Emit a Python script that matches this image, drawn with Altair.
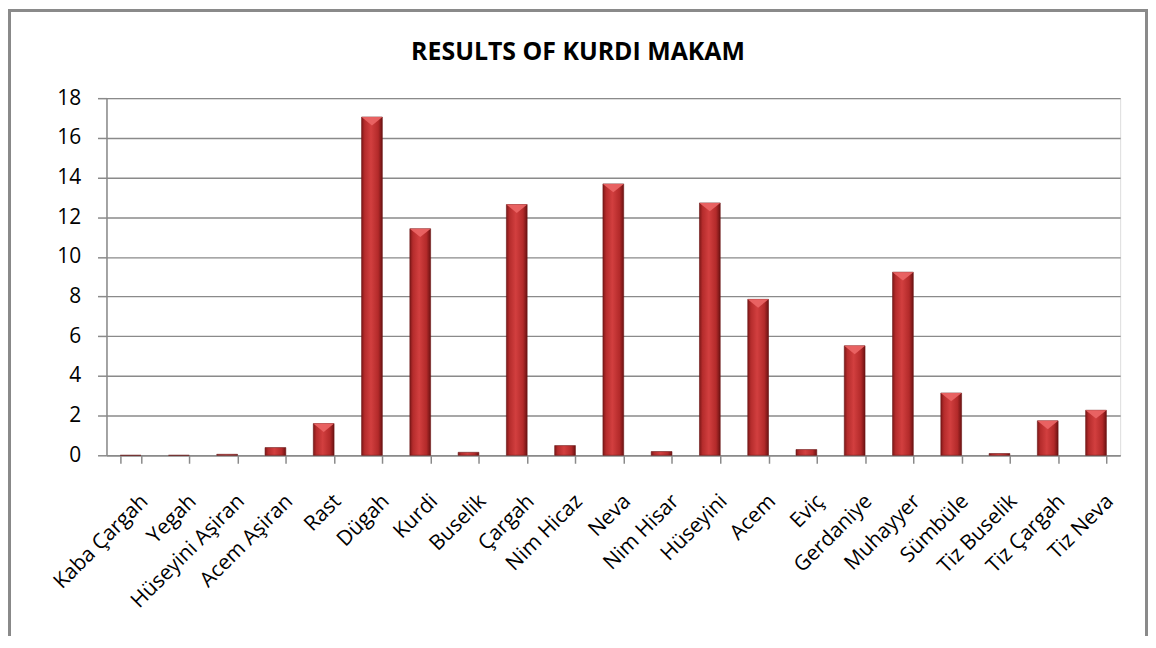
import altair as alt
import pandas as pd

categories = ["Kaba Çargah", "Yegah", "Hüseyini Aşiran", "Acem Aşiran", "Rast",
              "Dügah", "Kurdi", "Buselik", "Çargah", "Nim Hicaz", "Neva",
              "Nim Hisar", "Hüseyini", "Acem", "Eviç", "Gerdaniye", "Muhayyer",
              "Sümbüle", "Tiz Buselik", "Tiz Çargah", "Tiz Neva"]
values = [0, 0, 0.05, 0.39, 1.6, 17.05, 11.42, 0.15, 12.64, 0.49, 13.68,
          0.19, 12.72, 7.86, 0.29, 5.52, 9.23, 3.14, 0.09, 1.74, 2.27]
y_ticks = [0, 2, 4, 6, 8, 10, 12, 14, 16, 18]
title_text = "RESULTS OF KURDI MAKAM"

df = pd.DataFrame({"cat": categories, "v": values})

W, H = 1019, 359
GRID = "#8a8a8a"

yscale = alt.Scale(domain=[0, 18], nice=False)
yaxis = alt.Axis(values=y_ticks, tickCount=10, labelFont="Open Sans", labelFontSize=21,
                 labelColor="#000000", tickSize=9, tickColor=GRID,
                 tickWidth=1.5, labelPadding=17, domainColor=GRID,
                 domainWidth=1.5, gridColor=GRID, gridWidth=1.4, grid=True,
                 labelOverlap=False, labelFlush=False)
xscale = alt.Scale(paddingInner=0.57, paddingOuter=0.285)
xaxis = alt.Axis(labelAngle=-45, labelFont="Open Sans", labelFontSize=21,
                 labelColor="#000000", labelPadding=27, labelOffset=6,
                 tickBand="extent",
                 tickSize=8, tickColor=GRID, tickWidth=1.5,
                 domainColor=GRID, domainWidth=1.5, labelLimit=300,
                 labelOverlap=False, grid=False)

xenc = alt.X("cat:N", sort=categories, title=None, scale=xscale, axis=xaxis)
yenc = alt.Y("v:Q", title=None, scale=yscale, axis=yaxis)

grad = alt.Gradient(
    gradient="linear", x1=0, x2=1, y1=0, y2=0,
    stops=[alt.GradientStop(offset=0, color="#7e1818"),
           alt.GradientStop(offset=0.15, color="#b52c2c"),
           alt.GradientStop(offset=0.45, color="#d23f3f"),
           alt.GradientStop(offset=0.8, color="#b32a2a"),
           alt.GradientStop(offset=1, color="#6c1212")])

bars = alt.Chart(df).mark_bar(color=grad, stroke="#6a1414", strokeWidth=0.6).encode(
    x=xenc, y=yenc)

bevel = alt.Chart(df).transform_filter("datum.v > 1").mark_point(
    shape="M-1,0L1,0L0,0.8Z", size=441, filled=True, color="#ea6464", opacity=0.95
).encode(x=xenc, y=yenc)

border = alt.Chart(df).mark_rect(fill=None, stroke="#8a8a8a", strokeWidth=2.5).encode(
    x=alt.value(-98), x2=alt.value(W + 27), y=alt.value(-88), y2=alt.value(H + 250))

title = alt.Chart(pd.DataFrame({"t": [title_text]})).mark_text(
    font="Open Sans", fontSize=25, fontWeight="bold", color="#000000",
    align="center", baseline="middle"
).encode(text="t:N", x=alt.value(474), y=alt.value(-46))

chart = alt.layer(border, bars, bevel, title).properties(
    width=W, height=H,
    autosize=alt.AutoSizeParams(type="none"),
    padding={"left": 99, "top": 89, "right": 28, "bottom": 180},
).configure_view(stroke=None).configure(background="white")

chart.save("out.html", embed_options={"renderer": "svg", "actions": False})
